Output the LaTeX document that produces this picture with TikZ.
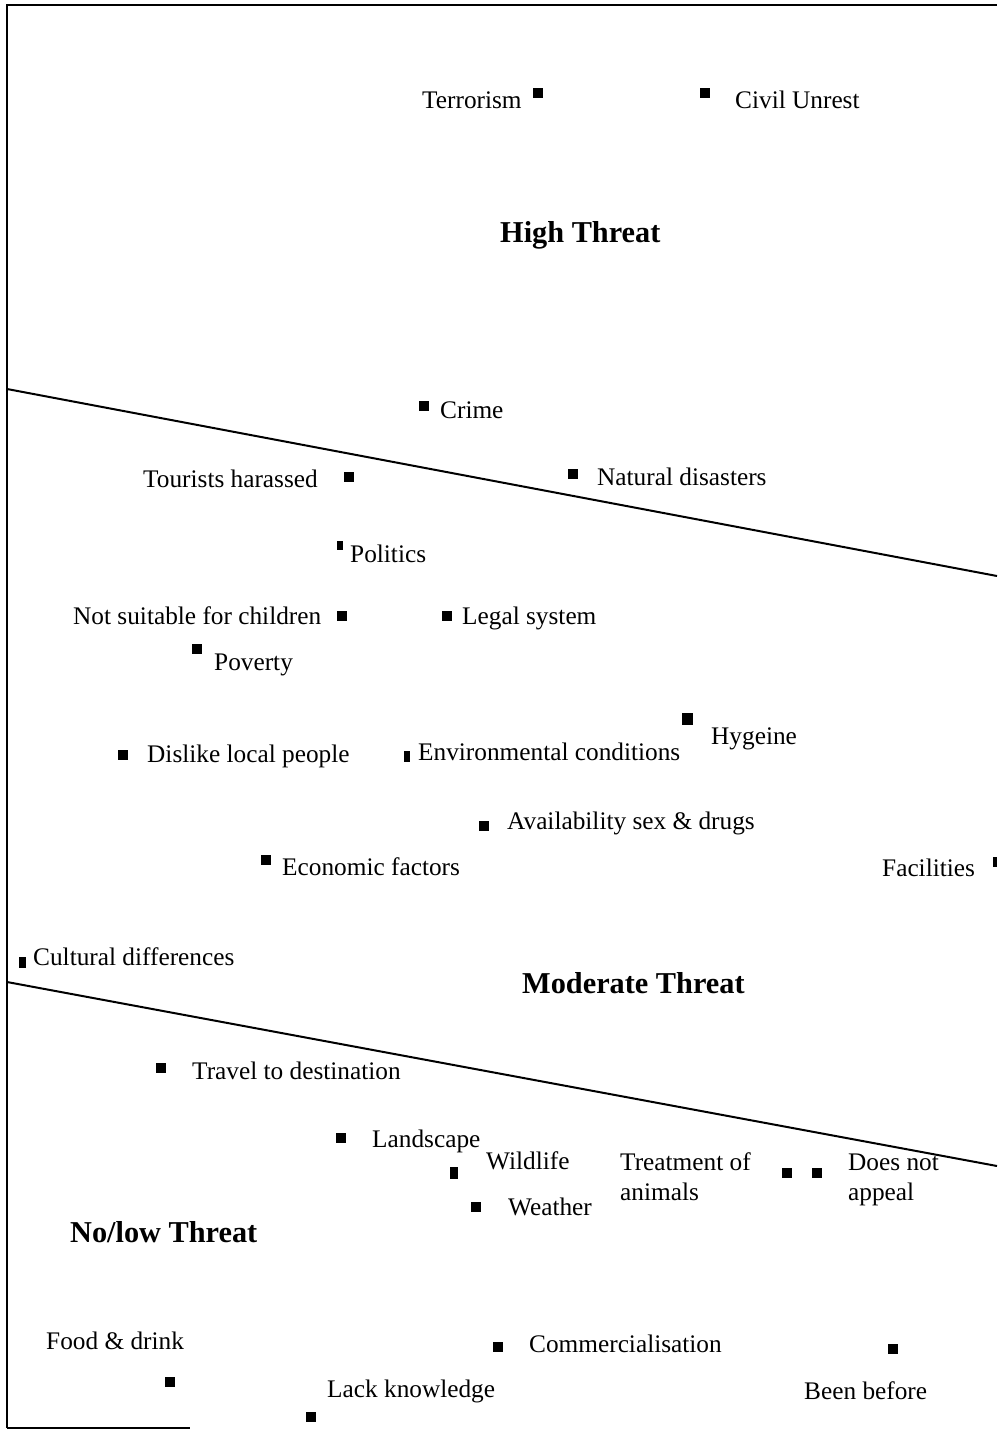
\documentclass[tikz,border=0pt]{standalone}
\usepackage{fontspec}
\setmainfont{Liberation Serif}
\begin{document}
\begin{tikzpicture}[x=1pt,y=-1pt,
  lbl/.style={anchor=base west,inner sep=0pt,font=\fontsize{25.3}{30}\selectfont},
  zone/.style={anchor=base west,inner sep=0pt,font=\fontsize{30.3}{34}\selectfont\bfseries},
  mk/.style={fill=black,inner sep=0pt,minimum width=10pt,minimum height=10pt},
  mknarrow/.style={mk,minimum width=6pt,minimum height=11pt},
  frame/.style={line width=2.2pt},
  divider/.style={line width=2pt}]
\useasboundingbox (0,0) rectangle (997,1437);

% frame
\draw[frame] (7,1428) -- (7,5) -- (997,5);
\draw[frame] (7,1428) -- (190,1428);

% threat boundaries
\coordinate (d1a) at (7,389);
\coordinate (d1b) at (997,576);
\coordinate (d2a) at (7,982);
\coordinate (d2b) at (997,1166);
\draw[divider] (d1a) -- (d1b);
\draw[divider] (d2a) -- (d2b);

% zone titles
\node[zone] (zhigh) at (500,242) {High Threat};
\node[zone] (zmod) at (522,993) {Moderate Threat};
\node[zone] (zlow) at (70,1242) {No/low Threat};

% high threat
\node[lbl] (terror) at (422,108) {Terrorism};
\node[mk] (mterror) at (538,93) {};
\node[lbl] (civil) at (735,108) {Civil Unrest};
\node[mk] (mcivil) at (705,93) {};

% moderate threat
\node[lbl] (crime) at (440,418) {Crime};
\node[mk] (mcrime) at (424,406) {};
\node[lbl] (tourist) at (143,487) {Tourists harassed};
\node[mk] (mtourist) at (349,477) {};
\node[lbl] (natural) at (597,485) {Natural disasters};
\node[mk] (mnatural) at (573,474) {};
\node[lbl] (politics) at (350,562) {Politics};
\node[mk,minimum width=6pt,minimum height=9pt] (mpolitics) at (340,545) {};
\node[lbl] (children) at (73,624) {Not suitable for children};
\node[mk] (mchildren) at (342,616) {};
\node[lbl] (legal) at (462,624) {Legal system};
\node[mk] (mlegal) at (447,616) {};
\node[lbl] (poverty) at (214,670) {Poverty};
\node[mk] (mpoverty) at (197,649) {};
\node[lbl] (dislike) at (147,762) {Dislike local people};
\node[mk] (mdislike) at (123,755) {};
\node[lbl] (environ) at (418,760) {Environmental conditions};
\node[mknarrow] (menviron) at (407,756) {};
\node[lbl] (hygeine) at (711,744) {Hygeine};
\node[mk,minimum width=11pt,minimum height=12pt] (mhygeine) at (687,719) {};
\node[lbl] (avail) at (507,829) {Availability sex \& drugs};
\node[mk] (mavail) at (484,826) {};
\node[lbl] (econ) at (282,875) {Economic factors};
\node[mk] (mecon) at (266,860) {};
\node[lbl] (facil) at (882,876) {Facilities};
\node[mk,minimum width=4pt,minimum height=10pt] (mfacil) at (995,862) {};
\node[lbl] (cultural) at (33,965) {Cultural differences};
\node[mknarrow,minimum width=7pt] (mcultural) at (22,962) {};

% no/low threat
\node[lbl] (travel) at (192,1079) {Travel to destination};
\node[mk] (mtravel) at (161,1068) {};
\node[lbl] (landscape) at (372,1147) {Landscape};
\node[mk] (mlandscape) at (341,1138) {};
\node[lbl] (wildlife) at (486,1169) {Wildlife};
\node[mknarrow,minimum width=8pt,minimum height=12pt] (mwildlife) at (454,1173) {};
\node[lbl] (weather) at (508,1215) {Weather};
\node[mk] (mweather) at (476,1207) {};
\node[lbl] (treat) at (620,1170) {Treatment of};
\node[lbl] (treat2) at (620,1200) {animals};
\node[mk] (mtreat) at (787,1173) {};
\node[lbl] (appeal) at (848,1170) {Does not};
\node[lbl] (appeal2) at (848,1200) {appeal};
\node[mk] (mappeal) at (817,1173) {};
\node[lbl] (food) at (46,1349) {Food \& drink};
\node[mk] (mfood) at (170,1382) {};
\node[lbl] (lack) at (327,1397) {Lack knowledge};
\node[mk] (mlack) at (311,1417) {};
\node[lbl] (commerc) at (529,1352) {Commercialisation};
\node[mk] (mcommerc) at (498,1347) {};
\node[lbl] (been) at (804,1399) {Been before};
\node[mk] (mbeen) at (893,1349) {};
\end{tikzpicture}
\end{document}
